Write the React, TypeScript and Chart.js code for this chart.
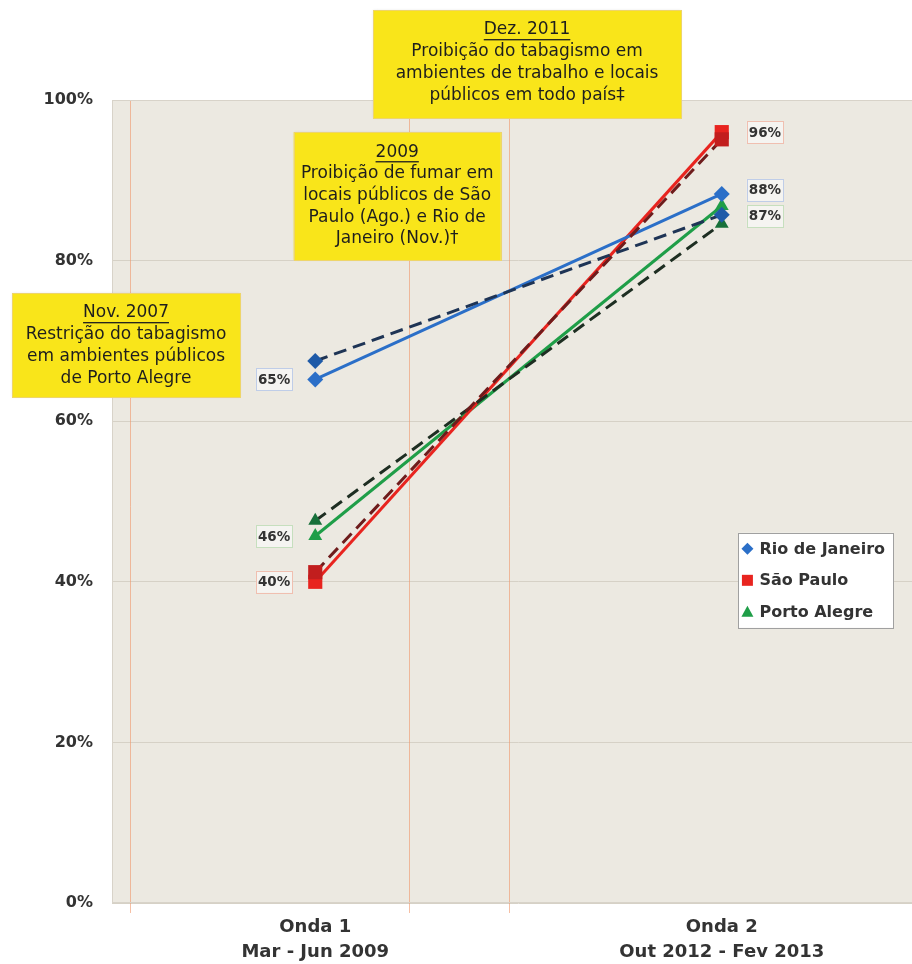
import React, { useEffect, useRef } from 'react';
import { Chart, registerables } from 'chart.js';
Chart.register(...registerables);

// ---- data ----
const categories = [['Onda 1', 'Mar - Jun 2009'], ['Onda 2', 'Out 2012 - Fev 2013']];
const seriesNames = ['Rio de Janeiro', 'São Paulo', 'Porto Alegre'];
const rioValues = [65.2, 88.3];
const saoPauloValues = [40.0, 96.0];
const portoAlegreValues = [45.7, 86.8];
const rioTrend = [67.5, 85.7];
const saoPauloTrend = [41.2, 95.1];
const portoAlegreTrend = [47.6, 84.6];
const yTickStep = 20;
const noteNov2007 = ['Nov. 2007', 'Restrição do tabagismo', 'em ambientes públicos', 'de Porto Alegre'];
const note2009 = ['2009', 'Proibição de fumar em', 'locais públicos de São', 'Paulo (Ago.) e Rio de', 'Janeiro (Nov.)†'];
const noteDez2011 = ['Dez. 2011', 'Proibição do tabagismo em', 'ambientes de trabalho e locais', 'públicos em todo país‡'];
// event reference lines, in category units (Onda 1 = 0, Onda 2 = 1)
const eventLines = [-0.455, 0.23, 0.477];

const FONT = '"DejaVu Sans", Verdana, sans-serif';

const decorPlugin = {
  id: 'decor',
  beforeDraw(chart: any) {
    const { ctx, chartArea: a } = chart;
    ctx.save();
    ctx.fillStyle = '#ECE9E1';
    ctx.fillRect(a.left, a.top, a.right - a.left, a.bottom - a.top);
    ctx.restore();
  },
  beforeDatasetsDraw(chart: any) {
    const { ctx, chartArea: a } = chart;
    const xs = chart.scales.x;
    ctx.save();
    ctx.strokeStyle = 'rgba(240,150,105,0.6)';
    ctx.lineWidth = 1;
    for (const v of eventLines) {
      const px = Math.round(xs.getPixelForValue(v)) + 0.5;
      ctx.beginPath();
      ctx.moveTo(px, a.top);
      ctx.lineTo(px, a.bottom + 10);
      ctx.stroke();
    }
    ctx.strokeStyle = '#D8D3C9';
    ctx.strokeRect(a.left + 0.5, a.top + 0.5, a.right - a.left - 1, a.bottom - a.top - 1);
    ctx.restore();
  },
  afterDatasetsDraw(chart: any, _args: any, opts: any) {
    const { ctx } = chart;
    const xs = chart.scales.x;
    const ys = chart.scales.y;
    ctx.save();
    // data labels
    ctx.font = `bold 13.5px ${FONT}`;
    ctx.textAlign = 'center';
    ctx.textBaseline = 'middle';
    chart.data.datasets.forEach((ds: any, i: number) => {
      if (!ds.showValueLabels) return;
      const meta = chart.getDatasetMeta(i);
      meta.data.forEach((pt: any, j: number) => {
        const txt = Math.round(ds.data[j]) + '%';
        const tw = ctx.measureText(txt).width;
        const bw = tw + 4;
        const bh = 22;
        const nudge = (opts.labelNudge[i] || [0, 0])[j];
        const cy = pt.y + nudge;
        const left = j === 0 ? pt.x - 23 - bw : pt.x + 25;
        ctx.fillStyle = '#F5F4F1';
        ctx.fillRect(left, cy - bh / 2, bw, bh);
        ctx.strokeStyle = ds.labelBorder;
        ctx.lineWidth = 1;
        ctx.strokeRect(Math.round(left) + 0.5, Math.round(cy - bh / 2) + 0.5, Math.round(bw), bh);
        ctx.fillStyle = '#333333';
        ctx.fillText(txt, left + bw / 2, cy + 1);
      });
    });

    // annotation boxes
    for (const b of opts.notes) {
      const cx = xs.getPixelForValue(b.x);
      const top = ys.getPixelForValue(b.top);
      const left = cx - b.w / 2;
      ctx.fillStyle = '#F9E51A';
      ctx.shadowColor = 'rgba(0,0,0,0.12)';
      ctx.shadowBlur = 3;
      ctx.fillRect(left, top, b.w, b.h);
      ctx.shadowColor = 'transparent';
      ctx.shadowBlur = 0;
      ctx.strokeStyle = '#EED56A';
      ctx.strokeRect(Math.round(left) + 0.5, Math.round(top) + 0.5, b.w, b.h);
      ctx.fillStyle = '#1E1E1E';
      ctx.font = `17px ${FONT}`;
      ctx.textAlign = 'center';
      ctx.textBaseline = 'middle';
      b.lines.forEach((line: string, k: number) => {
        const ly = top + 20 + k * 21.7;
        ctx.fillText(line, cx, ly);
        if (k === 0) {
          const w = ctx.measureText(line).width;
          ctx.fillRect(cx - w / 2, ly + 9, w, 1.3);
        }
      });
    }

    // legend
    const lg = opts.legend;
    const lx = xs.getPixelForValue(lg.x);
    const ly = ys.getPixelForValue(lg.top);
    ctx.fillStyle = '#FFFFFF';
    ctx.fillRect(lx, ly, lg.w, lg.h);
    ctx.strokeStyle = '#A0A0A0';
    ctx.lineWidth = 1;
    ctx.strokeRect(Math.round(lx) + 0.5, Math.round(ly) + 0.5, lg.w, lg.h);
    const items = chart.data.datasets.filter((d: any) => d.showValueLabels);
    ctx.font = `bold 16px ${FONT}`;
    ctx.textAlign = 'left';
    ctx.textBaseline = 'middle';
    items.forEach((d: any, k: number) => {
      const my = ly + 16 + k * 31.5;
      const mx = lx + 9;
      ctx.fillStyle = d.pointBackgroundColor;
      ctx.beginPath();
      if (d.pointStyle === 'rectRot') {
        ctx.moveTo(mx, my - 6); ctx.lineTo(mx + 6, my); ctx.lineTo(mx, my + 6); ctx.lineTo(mx - 6, my); ctx.closePath();
      } else if (d.pointStyle === 'rect') {
        ctx.rect(mx - 5.5, my - 5.5, 11, 11);
      } else {
        ctx.moveTo(mx, my - 6); ctx.lineTo(mx + 6, my + 5); ctx.lineTo(mx - 6, my + 5); ctx.closePath();
      }
      ctx.fill();
      ctx.fillStyle = '#333333';
      ctx.fillText(d.label, lx + 21, my + 1);
    });
    ctx.restore();
  },
};

export default function App() {
  const ref = useRef<HTMLCanvasElement>(null);
  useEffect(() => {
    const solid = (label: string, data: number[], color: string, style: string, r: number, lb: string) => ({
      label, data, borderColor: color, backgroundColor: color, pointBackgroundColor: color, pointBorderColor: color,
      pointStyle: style, pointRadius: r, pointBorderWidth: 0, borderWidth: 3, order: 1,
      showValueLabels: true, labelBorder: lb,
    });
    const dashed = (label: string, data: number[], color: string, mcolor: string, style: string, r: number) => ({
      label, data, borderColor: color, backgroundColor: mcolor, pointBackgroundColor: mcolor, pointBorderColor: mcolor,
      pointStyle: style, pointRadius: r, pointBorderWidth: 0, borderWidth: 3, borderDash: [13, 7], order: 0,
    });
    const chart = new Chart(ref.current as HTMLCanvasElement, {
      type: 'line',
      data: {
        labels: categories as any,
        datasets: [
          solid(seriesNames[0], rioValues, '#2B6FC8', 'rectRot', 8, '#BFCDE8'),
          solid(seriesNames[1], saoPauloValues, '#E8241F', 'rect', 10, '#F0BFB0'),
          solid(seriesNames[2], portoAlegreValues, '#1F9E48', 'triangle', 8, '#C6DFBE'),
          dashed(seriesNames[0] + ' (tendência)', rioTrend, '#1E3455', '#1E5AA8', 'rectRot', 8),
          dashed(seriesNames[1] + ' (tendência)', saoPauloTrend, '#6E1C1C', '#C21E1E', 'rect', 10),
          dashed(seriesNames[2] + ' (tendência)', portoAlegreTrend, '#1E2E22', '#17703A', 'triangle', 8),
        ] as any,
      },
      options: {
        animation: false,
        responsive: false,
        layout: { padding: { top: 100, right: 2, left: 0, bottom: 0 } },
        plugins: {
          legend: { display: false },
          tooltip: { enabled: false },
          decor: {
            labelNudge: { 0: [0, -4], 2: [0, 10] },
            notes: [
              { lines: noteNov2007, x: -0.4655, top: 75.96, w: 228, h: 104 },
              { lines: note2009, x: 0.2016, top: 96.0, w: 207, h: 128 },
              { lines: noteDez2011, x: 0.521, top: 111.2, w: 308, h: 108 },
            ],
            legend: { x: 1.041, top: 46.1, w: 155, h: 95 },
          },
        } as any,
        scales: {
          x: {
            offset: true,
            grid: { display: false, drawTicks: false },
            border: { display: false },
            ticks: {
              color: '#333333', autoSkip: false, maxRotation: 0, padding: 12,
              font: { family: FONT, size: 18, weight: 'bold', lineHeight: 1.38 },
            },
            afterFit(s: any) { s.height = 61; },
          },
          y: {
            min: 0, max: 100,
            ticks: {
              stepSize: yTickStep, padding: 19, color: '#333333',
              font: { family: FONT, size: 16, weight: 'bold' },
              callback: (v: any) => v + '%',
            },
            grid: { color: '#D6D1C6', drawTicks: false, lineWidth: 1 },
            border: { display: false },
            afterFit(s: any) { s.width = 112; },
          },
        } as any,
      },
      plugins: [decorPlugin as any],
    });
    return () => chart.destroy();
  }, []);
  return (
    <div style={{ position: 'absolute', left: 0, top: 0, width: 912, height: 964, overflow: 'hidden', background: '#fff' }}>
      <canvas ref={ref} width={935} height={964} style={{ display: 'block' }} />
    </div>
  );
}
